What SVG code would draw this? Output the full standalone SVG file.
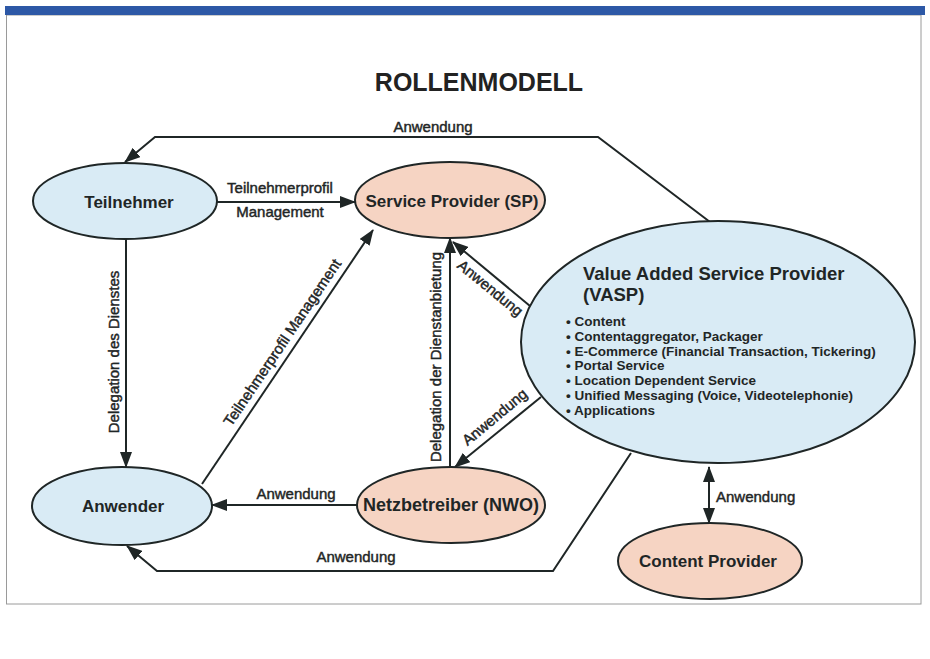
<svg xmlns="http://www.w3.org/2000/svg" width="930" height="659" viewBox="0 0 930 659">
<defs>
<marker id="arr" viewBox="0 0 16 12" refX="15" refY="6" markerWidth="16" markerHeight="12" markerUnits="userSpaceOnUse" orient="auto-start-reverse">
<path d="M0,0 L16,6 L0,12 z" fill="#1f2626"/>
</marker>
</defs>
<style>
.node-blue{fill:#d9ebf5;stroke:#1f2626;stroke-width:2}
.node-red{fill:#f6d4c3;stroke:#1f2626;stroke-width:2}
.nl{font-family:"Liberation Sans",Arial,sans-serif;font-weight:bold;font-size:17px;fill:#1f2626;text-anchor:middle}
.el{font-family:"Liberation Sans",Arial,sans-serif;font-size:15px;fill:#1f2626;stroke:#1f2626;stroke-width:0.45}
.c{fill:none;stroke:#1f2626;stroke-width:2}
.b{font-family:"Liberation Sans",Arial,sans-serif;font-weight:bold;font-size:13.5px;fill:#1f2626}
</style>
<rect x="0" y="0" width="930" height="659" fill="#ffffff"/>
<rect x="6.5" y="15" width="914.5" height="589" fill="none" stroke="#9a9a9a" stroke-width="1"/>
<rect x="5" y="6" width="920" height="9" fill="#2d58a6"/>
<text x="479" y="91" font-family="Liberation Sans,Arial,sans-serif" font-weight="bold" font-size="25" fill="#222" text-anchor="middle">ROLLENMODELL</text>

<g id="connectors">
<path class="c" d="M710,222 L598,137 L155,137 L125,162" marker-end="url(#arr)"/>
<path class="c" d="M217,202 L355,202" marker-end="url(#arr)"/>
<path class="c" d="M126,239 L126,467" marker-end="url(#arr)"/>
<path class="c" d="M202,484 L373,230" marker-end="url(#arr)"/>
<path class="c" d="M450,467 L450,238" marker-end="url(#arr)"/>
<path class="c" d="M530,306 L453,242" marker-end="url(#arr)"/>
<path class="c" d="M541,397 L455,467" marker-end="url(#arr)"/>
<path class="c" d="M357,505 L212,505" marker-end="url(#arr)"/>
<path class="c" d="M631,453 L553,571 L157,571 L127,546" marker-end="url(#arr)"/>
<path class="c" d="M709,467 L709,523" marker-start="url(#arr)" marker-end="url(#arr)"/>
<text class="el" x="433" y="132" text-anchor="middle">Anwendung</text>
<text class="el" x="280" y="193" text-anchor="middle">Teilnehmerprofil</text>
<text class="el" x="280" y="217" text-anchor="middle">Management</text>
<text class="el" transform="translate(119,352) rotate(-90)" text-anchor="middle">Delegation des Dienstes</text>
<text class="el" transform="translate(286.5,345.4) rotate(-56)" text-anchor="middle">Teilnehmerprofil Management</text>
<text class="el" transform="translate(441,357) rotate(-90)" text-anchor="middle">Delegation der Dienstanbietung</text>
<text class="el" transform="translate(487,292) rotate(39.3)" text-anchor="middle">Anwendung</text>
<text class="el" transform="translate(498,421) rotate(-39.8)" text-anchor="middle">Anwendung</text>
<text class="el" x="296" y="499" text-anchor="middle">Anwendung</text>
<text class="el" x="356" y="562" text-anchor="middle">Anwendung</text>
<text class="el" x="716" y="502">Anwendung</text>
</g>

<g id="teilnehmer">
<ellipse class="node-blue" cx="125" cy="201" rx="92" ry="38"/>
<text class="nl" x="129" y="208">Teilnehmer</text>
</g>
<g id="service-provider">
<ellipse class="node-red" cx="450" cy="200" rx="95" ry="38"/>
<text class="nl" x="452" y="207">Service Provider (SP)</text>
</g>
<g id="anwender">
<ellipse class="node-blue" cx="122" cy="506" rx="90" ry="39"/>
<text class="nl" x="123" y="512">Anwender</text>
</g>
<g id="netzbetreiber">
<ellipse class="node-red" cx="451" cy="505" rx="94" ry="38"/>
<text class="nl" x="451" y="511" style="font-size:18px">Netzbetreiber (NWO)</text>
</g>
<g id="vasp">
<ellipse class="node-blue" cx="718" cy="342" rx="197" ry="121"/>
<text x="583" y="280" font-family="Liberation Sans,Arial,sans-serif" font-weight="bold" font-size="18.5" fill="#1f2626">Value Added Service Provider</text>
<text x="583" y="301" font-family="Liberation Sans,Arial,sans-serif" font-weight="bold" font-size="18.5" fill="#1f2626">(VASP)</text>
<text class="b" x="566" y="326">• Content</text>
<text class="b" x="566" y="341">• Contentaggregator, Packager</text>
<text class="b" x="566" y="355.5">• E-Commerce (Financial Transaction, Tickering)</text>
<text class="b" x="566" y="370">• Portal Service</text>
<text class="b" x="566" y="385">• Location Dependent Service</text>
<text class="b" x="566" y="400">• Unified Messaging (Voice, Videotelephonie)</text>
<text class="b" x="566" y="414.5">• Applications</text>
</g>
<g id="content-provider">
<ellipse class="node-red" cx="710" cy="561" rx="92" ry="38"/>
<text class="nl" x="708" y="567">Content Provider</text>
</g>
</svg>
